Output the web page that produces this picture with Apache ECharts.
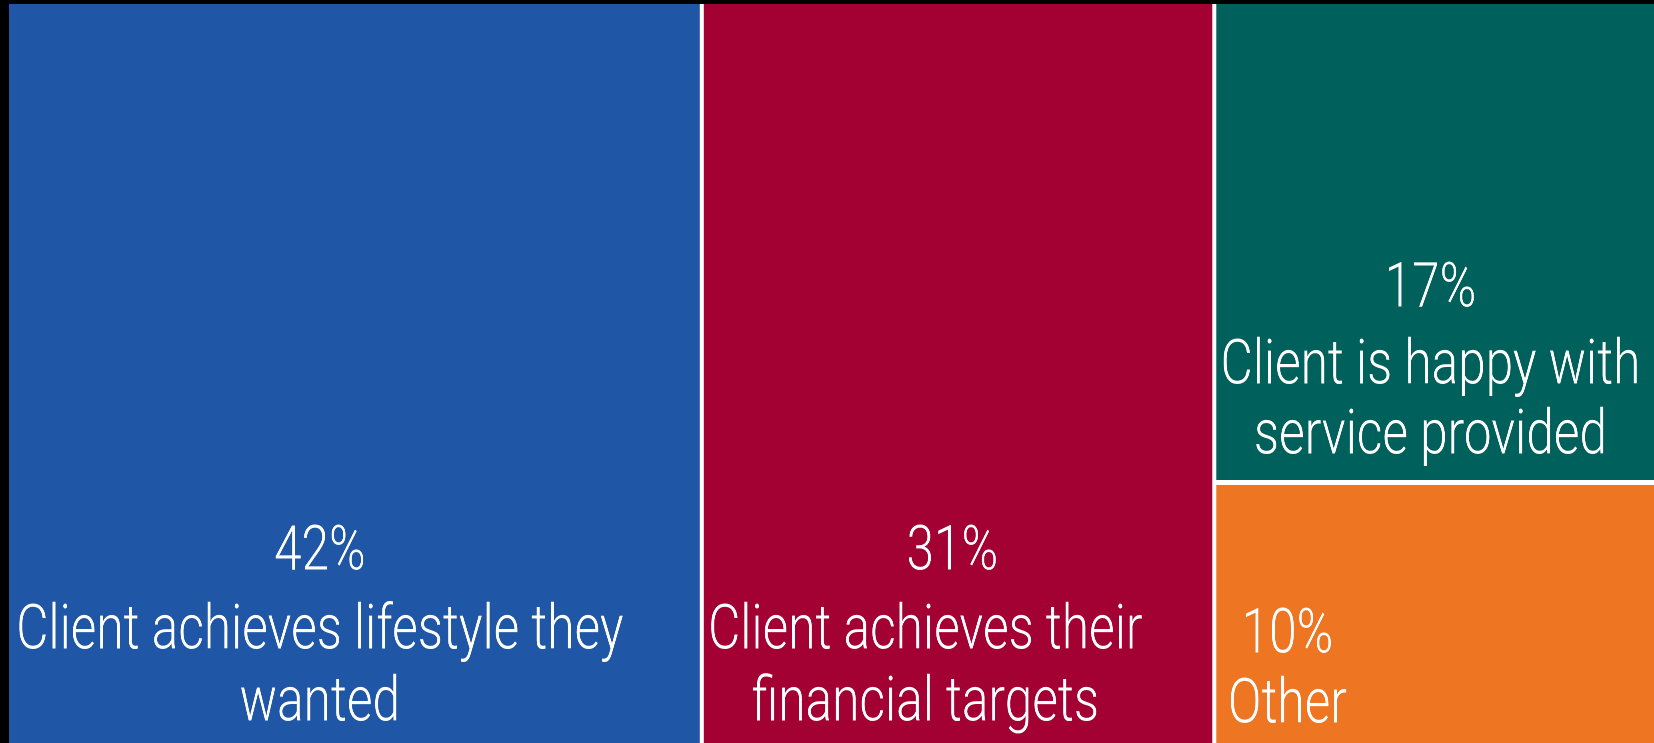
<!DOCTYPE html>
<html>
<head>
<meta charset="utf-8">
<script src="https://cdn.jsdelivr.net/npm/echarts@6/dist/echarts.min.js"></script>
<style>
  html, body { margin: 0; padding: 0; background: #000; overflow: hidden; }
  #wrap { width: 1654px; height: 743px; overflow: hidden; }
  #chart { height: 743px; transform-origin: 0 0; }
</style>
</head>
<body>
<div id="wrap"><div id="chart"></div></div>
<script>
// What matters most to advisers: share of responses
const categories = [
  'Client achieves lifestyle they\nwanted',
  'Client achieves their\nfinancial targets',
  'Client is happy with\nservice provided',
  'Other'
];
const shares = [42, 31, 17, 10];

const palette = ['#1F56A5', '#A30033', '#00605B', '#EE7623'];

// The page is drawn wider and squeezed horizontally so the labels get a
// condensed look (no condensed face is installed).
const SX = 0.8;
const PAGE_W = 1654, PAGE_H = 743;

// Text block placement inside each tile (page pixels): [top, right, bottom, left]
const labelPadding = [
  [507, 69, 0, 0],
  [507, 65.5, 0, 0],
  [245, 14.5, 0, 0],
  [118, 300.5, 0, 0]
];
const pctIndent = [0, 54, 0, 0];
const pctLineHeight = [86, 86, 84, 68];
const nameLineHeight = [72, 72, 70, 72];

const FONT = "Roboto, 'Liberation Sans', 'DejaVu Sans', sans-serif";

const el = document.getElementById('chart');
el.style.width = (PAGE_W / SX) + 'px';
el.style.transform = 'scaleX(' + SX + ')';

const chart = echarts.init(el, null, { renderer: 'canvas', devicePixelRatio: 2 });

const sx = (v) => v / SX;

const data = categories.map((name, i) => {
  const pad = labelPadding[i];
  return {
    name: name,
    value: shares[i],
    itemStyle: { color: palette[i] },
    label: {
      show: true,
      position: 'inside',
      overflow: 'none',
      padding: [pad[0], sx(pad[1]), pad[2], sx(pad[3])],
      formatter: (p) => '{p|' + p.value + '%}\n{n|' + p.name + '}',
      rich: {
        p: {
          fontFamily: FONT,
          fontWeight: 300,
          fontSize: 62,
          color: '#fff',
          lineHeight: pctLineHeight[i],
          align: 'center',
          padding: [0, 0, 0, sx(pctIndent[i])]
        },
        n: {
          fontFamily: FONT,
          fontWeight: 300,
          fontSize: 62,
          color: '#fff',
          lineHeight: nameLineHeight[i],
          align: 'center'
        }
      }
    }
  };
});

chart.setOption({
  backgroundColor: '#000',
  animation: false,
  series: [{
    type: 'treemap',
    left: sx(9),
    top: 4,
    width: sx(1650),
    height: 759,
    squareRatio: 1,
    roam: false,
    nodeClick: false,
    breadcrumb: { show: false },
    sort: 'desc',
    itemStyle: { borderColor: '#fff', borderWidth: 0, gapWidth: 0 },
    levels: [
      { itemStyle: { borderColor: '#fff', borderWidth: 0, gapWidth: 5 } },
      { itemStyle: { borderWidth: 0, gapWidth: 0 } }
    ],
    emphasis: { disabled: true },
    data: data
  }]
});
</script>
</body>
</html>
